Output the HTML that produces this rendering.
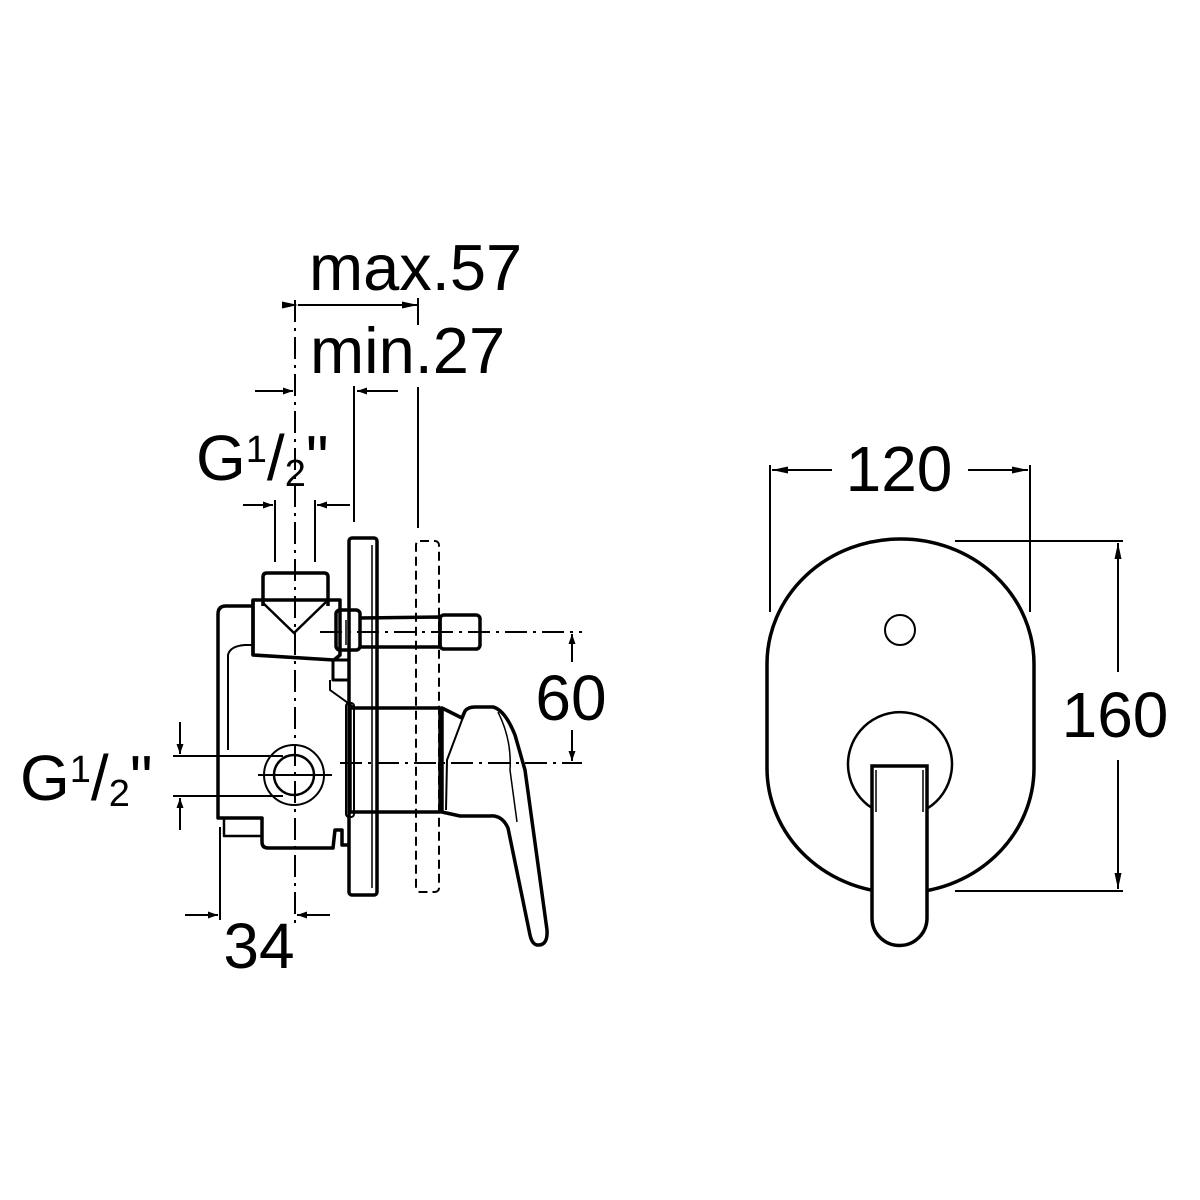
<!DOCTYPE html>
<html><head><meta charset="utf-8"><style>html,body{margin:0;padding:0;background:#fff}svg{display:block}</style></head>
<body>
<svg width="1200" height="1200" viewBox="0 0 1200 1200" xmlns="http://www.w3.org/2000/svg" font-family="Liberation Sans, Arial, sans-serif" fill="none" stroke="#000">
<defs>
<marker id="a" viewBox="0 0 10 10" refX="10" refY="5" markerWidth="10" markerHeight="10" markerUnits="userSpaceOnUse" orient="auto"><path d="M0,1.5 L10,5 L0,8.5 Z" fill="#000" stroke="none"/></marker>
<marker id="b" viewBox="0 0 16 10" refX="16" refY="5" markerWidth="16" markerHeight="10" markerUnits="userSpaceOnUse" orient="auto"><path d="M0,1.5 L16,5 L0,8.5 Z" fill="#000" stroke="none"/></marker>
</defs>

<!-- ========== LEFT DRAWING ========== -->
<g stroke-width="2">
<!-- centre line -->
<line x1="295" y1="300" x2="295" y2="925" stroke-dasharray="22,6,3,6"/>
<!-- top dims -->
<line x1="298" y1="305" x2="418" y2="305" marker-start="url(#b)" marker-end="url(#b)"/>
<line x1="418" y1="298" x2="418" y2="325"/>
<line x1="418" y1="387" x2="418" y2="528"/>
<line x1="354" y1="386" x2="354" y2="522"/>
<line x1="255" y1="391" x2="293" y2="391" marker-end="url(#a)"/>
<line x1="398" y1="391" x2="357" y2="391" marker-end="url(#a)"/>
<line x1="275" y1="500" x2="275" y2="562"/>
<line x1="315" y1="500" x2="315" y2="562"/>
<line x1="243" y1="505" x2="273" y2="505" marker-end="url(#a)"/>
<line x1="350" y1="505" x2="317" y2="505" marker-end="url(#a)"/>
<!-- left G dims -->
<line x1="173" y1="756" x2="283" y2="756"/>
<line x1="173" y1="796" x2="283" y2="796"/>
<line x1="180" y1="722" x2="180" y2="754" marker-end="url(#a)"/>
<line x1="180" y1="830" x2="180" y2="798" marker-end="url(#a)"/>
<!-- 34 -->
<line x1="220" y1="827" x2="220" y2="920"/>
<line x1="185" y1="915" x2="218" y2="915" marker-end="url(#a)"/>
<line x1="330" y1="915" x2="297" y2="915" marker-end="url(#a)"/>
<!-- 60 -->
<line x1="320" y1="632" x2="582" y2="632" stroke-dasharray="22,6,3,6"/>
<line x1="340" y1="763" x2="582" y2="763" stroke-dasharray="22,6,3,6"/>
<line x1="572" y1="662" x2="572" y2="634" marker-end="url(#a)"/>
<line x1="572" y1="730" x2="572" y2="761" marker-end="url(#a)"/>
<!-- dashed rect -->
<rect x="416" y="541" width="23" height="351" rx="4" stroke-dasharray="9,5"/>
</g>

<g stroke-width="3.5" stroke-linejoin="round">
<!-- wall plate -->
<rect x="349" y="538" width="28" height="357" rx="3"/>
<line x1="372" y1="545" x2="372" y2="888" stroke-width="1.5"/>
<!-- body -->
<path d="M253,606 L226,606 Q218,606 218,614 L218,818 L262,818 L262,842 Q262,848 268,848 L333,848 L335,830 L342,830 L342,845 L350,845"/>
<path d="M224,818 L224,836 L262,836" stroke-width="2.5"/>
<path d="M228,750 L228,655 Q230,646 245,645 L253,645" stroke-width="2"/>
<!-- top fitting -->
<path d="M263,606 L263,577 Q263,573 267,573 L324,573 Q328,573 328,577 L328,606"/>
<path d="M253,600 L340,600 L340,655 L334,660 L253,655 Z"/>
<path d="M253,600 L253,655" />
<path d="M262,602 L294,633 L326,602" stroke-width="2.5"/>
<!-- nut + shaft -->
<rect x="336" y="610" width="24" height="40" rx="4"/>
<path d="M360,618 L440,617 L440,647 L360,647" />
<rect x="440" y="615" width="40" height="34" rx="4"/>
<line x1="346" y1="620" x2="346" y2="645" stroke-width="1.5"/>
<!-- small block under nut -->
<path d="M333,660 L349,660 L349,680 L333,680 Z" stroke-width="3"/>
<path d="M330,680 L330,690 L355,708" stroke-width="2"/>
<!-- outlet circle -->
<circle cx="294" cy="775" r="30" stroke-width="2"/>
<circle cx="294" cy="775" r="20" stroke-width="2.5"/>
<line x1="258" y1="775" x2="332" y2="775" stroke-width="2"/>
<!-- cartridge -->
<path d="M350,708 L440,708 L440,812 L350,812 Z"/>
<rect x="346" y="703" width="8" height="114" rx="3" stroke-width="2"/>
<line x1="442" y1="710" x2="442" y2="812" stroke-width="2"/>
<!-- handle + lever -->
<path d="M442,708 L462,718 L465,711 Q468,707 475,707 L493,707 Q505,710 515,735 L525,770 L547,930 Q548,946 537,945 Q532,944 530,935 L508,828 Q502,815 490,816 L460,816 L442,812 Z"/>
<path d="M465,712 L447,760 L446,810" stroke-width="2"/>
<path d="M498,712 Q512,740 510,770 L517,822" stroke-width="1.5"/>
</g>

<!-- ========== RIGHT DRAWING ========== -->
<g stroke-width="2">
<line x1="770" y1="465" x2="770" y2="612"/>
<line x1="1030" y1="465" x2="1030" y2="612"/>
<line x1="832" y1="470" x2="772" y2="470" marker-end="url(#b)"/>
<line x1="968" y1="470" x2="1028" y2="470" marker-end="url(#b)"/>
<line x1="955" y1="541" x2="1123" y2="541"/>
<line x1="955" y1="891" x2="1123" y2="891"/>
<line x1="1118" y1="672" x2="1118" y2="543" marker-end="url(#b)"/>
<line x1="1118" y1="760" x2="1118" y2="889" marker-end="url(#b)"/>
</g>
<g stroke-width="3.5">
<rect x="767" y="539" width="267" height="354" rx="133" ry="125"/>
<circle cx="900" cy="630" r="15" stroke-width="2"/>
<path d="M872,808 A52,52 0 1 1 928,808" stroke-width="2.5" fill="#fff"/>
<path d="M872,940 L872,766 L927,766 L927,940" fill="#fff" stroke="none"/>
<path d="M872,918 L872,766 L927,766 L927,918 A27.5,27.5 0 0 1 872,918 Z" fill="#fff"/>
<path d="M876,770 L876,812 M923,770 L923,812" stroke-width="1.5"/>
</g>

<!-- ========== TEXT ========== -->
<g fill="#000" stroke="none">
<text x="309" y="290" font-size="65">max.57</text>
<text x="310" y="373" font-size="65">min.27</text>
<text x="196" y="480" font-size="64">G<tspan font-size="38" dy="-18">1</tspan><tspan dy="18">/</tspan><tspan font-size="38" dy="6">2</tspan><tspan dy="-6">"</tspan></text>
<text x="20" y="800" font-size="64">G<tspan font-size="38" dy="-18">1</tspan><tspan dy="18">/</tspan><tspan font-size="38" dy="6">2</tspan><tspan dy="-6">"</tspan></text>
<text x="259" y="968" font-size="64" text-anchor="middle">34</text>
<text x="571" y="720" font-size="64" text-anchor="middle">60</text>
<text x="899" y="491" font-size="64" text-anchor="middle">120</text>
<text x="1115" y="737" font-size="64" text-anchor="middle">160</text>
</g>
</svg>
</body></html>
